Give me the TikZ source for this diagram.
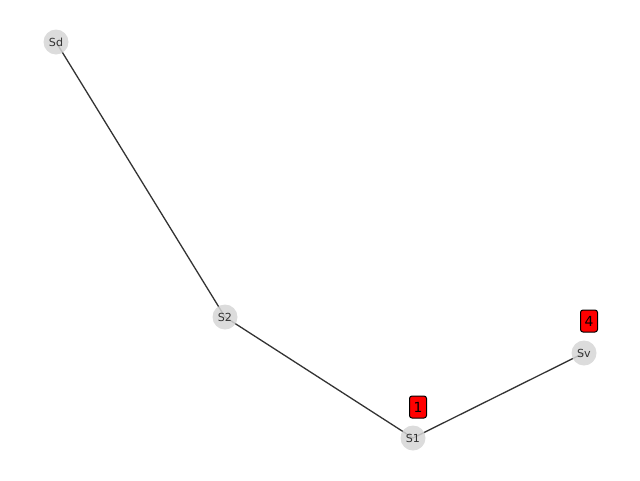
\documentclass[tikz,border=0pt]{standalone}
\usepackage{fontspec}
\setmainfont{DejaVu Sans}
\usetikzlibrary{positioning, backgrounds}

\begin{document}
\begin{tikzpicture}[x=1pt,y=-1pt,
        station/.style={circle, fill=black!16, fill opacity=0.85, text opacity=1,
            minimum size=25pt, inner sep=0pt,
            text=black!80, font=\fontsize{11.1}{13}\selectfont},
        flag/.style={draw=black, fill=red, rounded corners=2.5pt, line width=1pt,
            minimum width=17pt, minimum height=22pt, inner sep=0pt,
            font=\fontsize{13.9}{16}\selectfont},
        link/.style={draw=black!80, line width=1.3pt}]
        % Fix the canvas
        \useasboundingbox (0,0) rectangle (640,480);

        % Draw the stations
        \node[station] (Sd) at (56,42) {Sd};
        \node[station] (S2) at (225,317) {S2};
        \node[station] (S1) at (413,438) {S1};
        \node[station] (Sv) at (584,353) {Sv};

        % Draw the links under the stations
        \begin{scope}[on background layer]
            \draw[link] (Sd.center) -- (S2.center) -- (S1.center) -- (Sv.center);
        \end{scope}

        % Label the counts
        \node[flag] (c1) at (418,407) {1};
        \node[flag] (c4) at (589,321) {4};
\end{tikzpicture}
\end{document}
